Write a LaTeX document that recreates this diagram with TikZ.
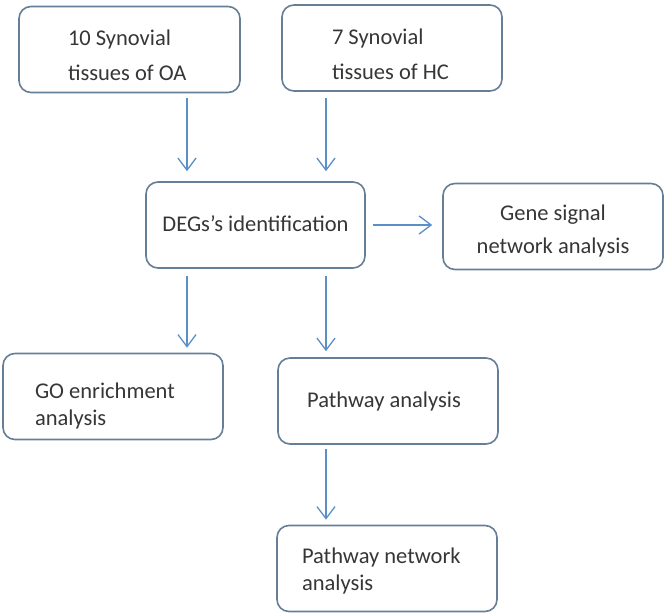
\documentclass[tikz,border=0pt]{standalone}
\usepackage{fontspec}
\setmainfont{Carlito}
\usetikzlibrary{arrows.meta}
\definecolor{boxline}{HTML}{667F96}
\definecolor{arrowblue}{HTML}{5B8FC8}
\definecolor{txt}{HTML}{363636}
\tikzset{>={Straight Barb[length=12pt,width=18pt]}}
\tikzset{stage/.style={draw=boxline,line width=1.6pt,rounded corners=12pt,
  minimum width=220pt,minimum height=86pt,inner sep=0pt,text=txt,
  font=\fontsize{22.5}{31}\selectfont}}
\tikzset{flow/.style={->,draw=arrowblue,line width=1.3pt}}

\begin{document}
\begin{tikzpicture}[x=1pt,y=-1pt]
\useasboundingbox (0,0) rectangle (666,615);
\coordinate (a1) at (187,0);
\coordinate (a2) at (326,0);
\node[stage,minimum width=221pt,text width=123pt,align=flush left,text height=28pt] (oa) at (129.5,49.5) {10 Synovial\\[4pt]tissues of OA};
\node[stage,text width=120pt,align=flush left,text height=28pt] (hc) at (392,48) {7 Synovial\\[4pt]tissues of HC};
\node[stage,minimum width=219pt,align=center] (deg) at (255.5,225) {\raisebox{3pt}{DEGs's identification}};
\node[stage,text width=200pt,align=flush center,text height=25pt] (gene) at (553,226.5) {Gene signal\\[2pt]network analysis};
\node[stage,text width=156pt,align=flush left,text height=34pt] (go) at (113,396.5) {GO enrichment\\[-4pt]analysis};
\node[stage,align=center] (path) at (388,401) {\hspace*{-8pt}Pathway analysis};
\node[stage,text width=170pt,align=flush left,text height=20pt] (pnet) at (387,568.5) {Pathway network\\[-4pt]analysis};
\draw[flow,shorten <=5pt,shorten >=10pt] (oa.south -| a1) -- (deg.north -| a1);
\draw[flow,shorten <=6pt,shorten >=10pt] (hc.south -| a2) -- (deg.north -| a2);
\draw[flow,shorten <=7pt,shorten >=10pt] (deg.east) -- (deg.east -| gene.west);
\draw[flow,shorten <=7pt,shorten >=5pt] (deg.south -| a1) -- (go.north -| a1);
\draw[flow,shorten <=7pt,shorten >=6pt] (deg.south -| a2) -- (path.north -| a2);
\draw[flow,shorten <=4pt,shorten >=5pt] (path.south -| a2) -- (pnet.north -| a2);
\end{tikzpicture}
\end{document}
